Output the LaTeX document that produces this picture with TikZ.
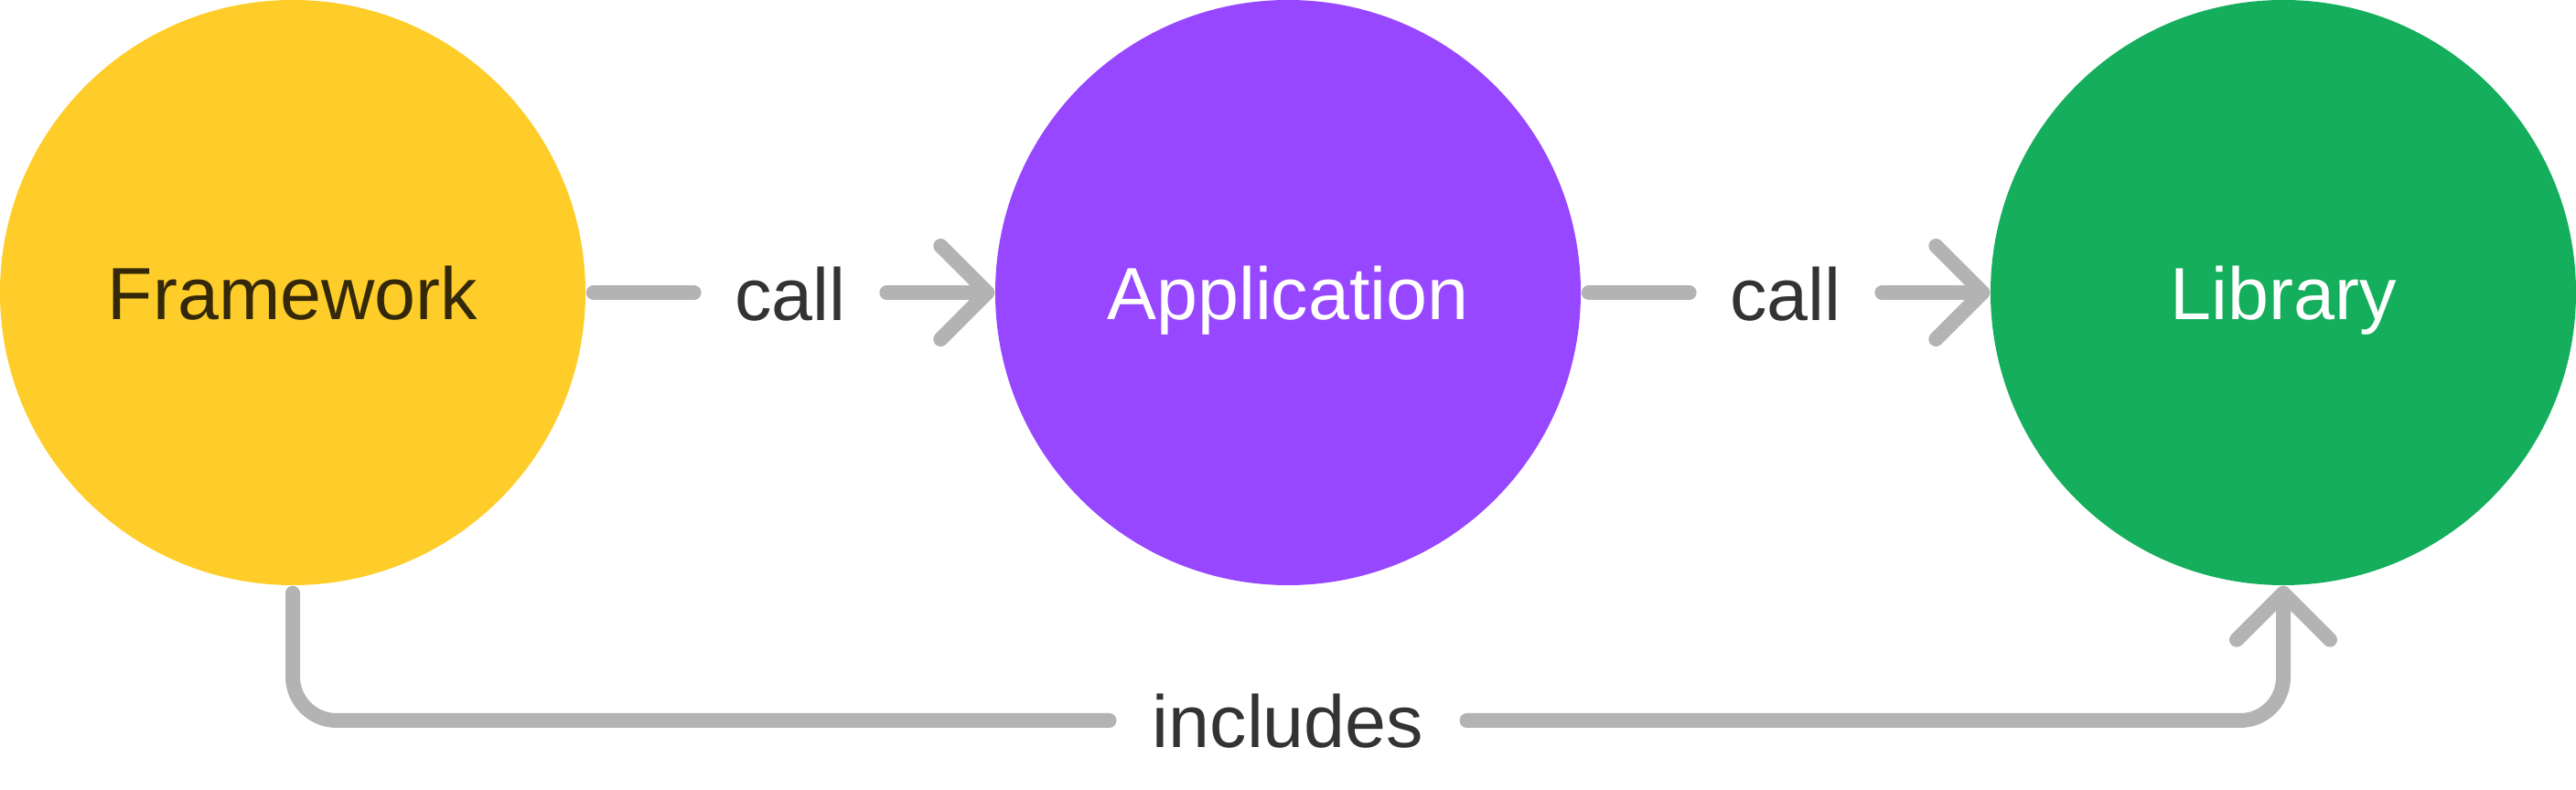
\documentclass[tikz,border=0pt]{standalone}
\usepackage{fontspec}
\setmainfont{Liberation Sans}
\usetikzlibrary{calc}
\definecolor{fwyellow}{HTML}{FFCD29}
\definecolor{apppurple}{HTML}{9747FF}
\definecolor{libgreen}{HTML}{14AE5C}
\definecolor{conngray}{HTML}{B3B3B3}
\definecolor{labeltext}{HTML}{333333}
\definecolor{fwtext}{HTML}{33290A}
\tikzset{
  bubble/.style={circle, minimum size=6.4cm, inner sep=0pt, draw=none, font=\fontsize{23}{28}\selectfont},
  clabel/.style={inner sep=0pt, anchor=base, text=labeltext, font=\fontsize{23}{28}\selectfont},
  conn/.style={draw=conngray, line width=0.16cm, line cap=round, line join=round},
}
\begin{document}
\begin{tikzpicture}
\useasboundingbox (0,0) rectangle (28.16,8.64);
\node[bubble, fill=fwyellow] (fw) at (3.2,5.44) {};
\node[bubble, fill=apppurple] (app) at (14.08,5.44) {};
\node[bubble, fill=libgreen] (lib) at (24.96,5.44) {};
\node[clabel, text=fwtext] (fwt) at (3.2,5.14) {Framework};
\node[clabel, text=white] (appt) at (14.08,5.14) {Application};
\node[clabel, text=white] (libt) at (24.96,5.14) {Library};
% labels
\node[clabel] (call1) at (8.64,5.13) {call};
\node[clabel] (call2) at (19.52,5.13) {call};
\node[clabel] (inc) at (14.08,0.46) {includes};
% helper coordinates
\coordinate (hl) at (0,0.76);
\coordinate (c1l) at ([xshift=-0.44cm]call1.west);
\coordinate (c1r) at ([xshift=0.44cm]call1.east);
\coordinate (c2l) at ([xshift=-0.44cm]call2.west);
\coordinate (c2r) at ([xshift=0.44cm]call2.east);
\coordinate (incl) at ([xshift=-0.465cm]inc.west);
\coordinate (incr) at ([xshift=0.465cm]inc.east);
\coordinate (appv) at ([xshift=-0.08cm]app.west);
\coordinate (libv) at ([xshift=-0.08cm]lib.west);
\coordinate (libb) at ([yshift=-0.08cm]lib.south);
% call 1
\draw[conn] ([xshift=0.08cm]fw.east) -- (c1l |- fw.east);
\draw[conn] (c1r |- app.west) -- (appv);
\draw[conn] ($(appv)+(-0.51,0.51)$) -- (appv) -- ($(appv)+(-0.51,-0.51)$);
% call 2
\draw[conn] ([xshift=0.08cm]app.east) -- (c2l |- app.east);
\draw[conn] (c2r |- lib.west) -- (libv);
\draw[conn] ($(libv)+(-0.51,0.51)$) -- (libv) -- ($(libv)+(-0.51,-0.51)$);
% includes
\draw[conn, rounded corners=0.48cm] ([yshift=-0.08cm]fw.south) |- (incl |- hl);
\draw[conn, rounded corners=0.47cm] (incr |- hl) -| (libb);
\draw[conn] ($(libb)+(-0.51,-0.51)$) -- (libb) -- ($(libb)+(0.51,-0.51)$);
\end{tikzpicture}
\end{document}
